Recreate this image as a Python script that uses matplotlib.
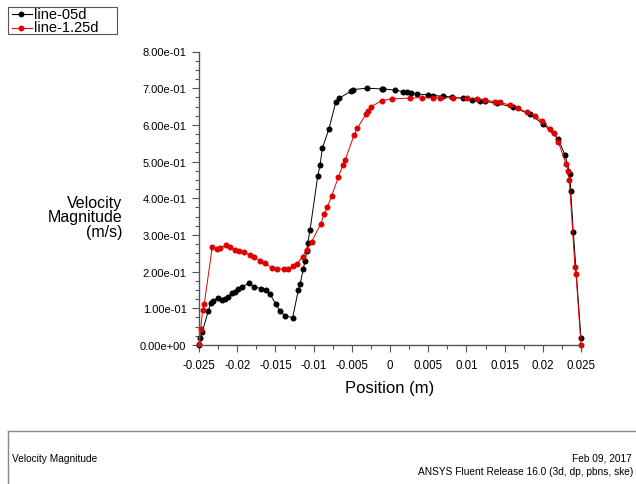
import matplotlib
matplotlib.use('Agg')
import matplotlib.pyplot as plt
from matplotlib.lines import Line2D
from matplotlib.patches import Rectangle
from matplotlib.ticker import MultipleLocator, FuncFormatter

plt.rcParams['font.family'] = ['Liberation Sans', 'DejaVu Sans']

# line-05d (black)
x_05d = [-0.0250, -0.02483, -0.02457, -0.02378, -0.02347, -0.02313, -0.02255, -0.02203,
         -0.02160, -0.02120, -0.02072, -0.02029, -0.01986, -0.01933, -0.01842, -0.01780,
         -0.01692, -0.01623, -0.01571, -0.01496, -0.01440, -0.01374, -0.01274, -0.01200,
         -0.01178, -0.01135, -0.01113, -0.01090, -0.01077, -0.01047, -0.00946, -0.00916,
         -0.00886, -0.00798, -0.00711, -0.00671, -0.00510, -0.00488, -0.00305, -0.00109,
         -0.00090, 0.00065, 0.00175, 0.00219, 0.00280, 0.00349, 0.00501, 0.00567, 0.00698,
         0.00807, 0.00959, 0.01069, 0.01178, 0.01248, 0.01397, 0.01614, 0.01833, 0.02007,
         0.02203, 0.02291, 0.02356, 0.02365, 0.02399, 0.0250]
y_05d = [0.000, 0.019, 0.036, 0.093, 0.114, 0.119, 0.129, 0.123,
         0.125, 0.131, 0.141, 0.145, 0.153, 0.159, 0.169, 0.159,
         0.154, 0.151, 0.139, 0.112, 0.093, 0.080, 0.074, 0.150,
         0.165, 0.207, 0.230, 0.255, 0.278, 0.313, 0.460, 0.490,
         0.536, 0.590, 0.661, 0.672, 0.692, 0.696, 0.700, 0.698,
         0.698, 0.695, 0.690, 0.689, 0.687, 0.684, 0.682, 0.680, 0.678,
         0.676, 0.672, 0.669, 0.666, 0.664, 0.659, 0.648, 0.629, 0.602,
         0.561, 0.518, 0.466, 0.420, 0.309, 0.018]

# line-1.25d (red)
x_125d = [-0.02496, -0.02478, -0.02452, -0.02431, -0.02326, -0.02268, -0.02225, -0.02147,
          -0.02094, -0.02029, -0.01976, -0.01911, -0.01832, -0.01780, -0.01702, -0.01636,
          -0.01541, -0.01483, -0.01384, -0.01331, -0.01266, -0.01221, -0.01143, -0.01090,
          -0.01025, -0.00907, -0.00860, -0.00821, -0.00763, -0.00677, -0.00619, -0.00585,
          -0.00471, -0.00428, -0.00314, -0.00284, -0.00245, -0.00109, 0.00022, 0.00262,
          0.00415, 0.00567, 0.00654, 0.00829, 0.01004, 0.01135, 0.01243, 0.01374,
          0.01440, 0.01571, 0.01679, 0.01789, 0.01898, 0.01986, 0.02094, 0.02151,
          0.02203, 0.02304, 0.02334, 0.02347, 0.02421, 0.02435, 0.0250]
y_125d = [0.003, 0.044, 0.096, 0.112, 0.268, 0.262, 0.264, 0.272,
          0.266, 0.260, 0.255, 0.253, 0.245, 0.240, 0.230, 0.223,
          0.210, 0.208, 0.207, 0.207, 0.214, 0.221, 0.241, 0.260,
          0.282, 0.330, 0.357, 0.375, 0.407, 0.457, 0.490, 0.505,
          0.572, 0.591, 0.629, 0.638, 0.650, 0.666, 0.671, 0.673,
          0.674, 0.674, 0.673, 0.674, 0.672, 0.670, 0.668, 0.663,
          0.661, 0.654, 0.645, 0.634, 0.625, 0.611, 0.590, 0.578,
          0.554, 0.493, 0.475, 0.450, 0.212, 0.193, 0.000]

series_names = ['line-05d', 'line-1.25d']
series_colors = ['black', '#dd0000']

W, H = 636, 485
fig = plt.figure(figsize=(W / 100, H / 100), dpi=100)
ax = fig.add_axes([199 / W, 1 - 346 / H, (581 - 199) / W, (346 - 52.5) / H])

for xs, ys, c in [(x_05d, y_05d, series_colors[0]), (x_125d, y_125d, series_colors[1])]:
    ax.plot(xs, ys, color=c, lw=0.7, marker='o', ms=3.3, mec=c, mfc=c, clip_on=False)

ax.set_xlim(-0.025, 0.025)
ax.set_ylim(0, 0.8)
ax.xaxis.set_major_locator(MultipleLocator(0.005))
ax.xaxis.set_minor_locator(MultipleLocator(0.0025))
ax.yaxis.set_major_locator(MultipleLocator(0.1))
ax.yaxis.set_minor_locator(MultipleLocator(0.025))
ax.xaxis.set_major_formatter(FuncFormatter(lambda v, p: '0' if abs(v) < 1e-9 else '{:g}'.format(round(v, 4))))
ax.yaxis.set_major_formatter(FuncFormatter(lambda v, p: '{:.2e}'.format(v)))

for s in ['top', 'right']:
    ax.spines[s].set_visible(False)
for s in ['left', 'bottom']:
    ax.spines[s].set_color('#555555')
    ax.spines[s].set_linewidth(1.0)
ax.tick_params(which='major', length=5, width=0.8, color='#555555', labelsize=8, pad=4)
ax.tick_params(which='minor', length=3, width=0.8, color='#555555')
ax.tick_params(axis='x', labelsize=8.3, pad=5)

fig.text(122 / W, 1 - 218 / H, 'Velocity\nMagnitude\n(m/s)', ha='right', va='center',
         multialignment='right', fontsize=11.5, linespacing=0.95)
fig.text(390 / W, 1 - 388 / H, 'Position (m)', ha='center', va='center', fontsize=12)

# legend box top-left
fig.add_artist(Rectangle((8 / W, 1 - 35 / H), 109 / W, 27 / H, transform=fig.transFigure,
                         fill=False, ec='#555555', lw=0.8))
for i, (name, c) in enumerate(zip(series_names, series_colors)):
    yy = 1 - (15 + 13.5 * i) / H
    fig.add_artist(Line2D([12 / W, 32 / W], [yy, yy], transform=fig.transFigure, color=c, lw=0.8))
    fig.add_artist(Line2D([21 / W], [yy], transform=fig.transFigure, color=c, marker='o', ms=3.2))
    fig.text(34 / W, yy, name, ha='left', va='center', fontsize=10.5)

# bottom info panel
fig.add_artist(Line2D([8 / W, 1], [1 - 432 / H, 1 - 432 / H], transform=fig.transFigure,
                      color='#888888', lw=1))
fig.add_artist(Line2D([8 / W, 8 / W], [1 - 432 / H, 0], transform=fig.transFigure,
                      color='#888888', lw=1))
fig.text(12 / W, 1 - 459 / H, 'Velocity Magnitude', ha='left', va='center', fontsize=7.3)
fig.text(632 / W, 1 - 459 / H, 'Feb 09, 2017', ha='right', va='center', fontsize=7.3)
fig.text(633 / W, 1 - 472 / H, 'ANSYS Fluent Release 16.0 (3d, dp, pbns, ske)',
         ha='right', va='center', fontsize=7.3)

fig.savefig('out.png', dpi=100)
